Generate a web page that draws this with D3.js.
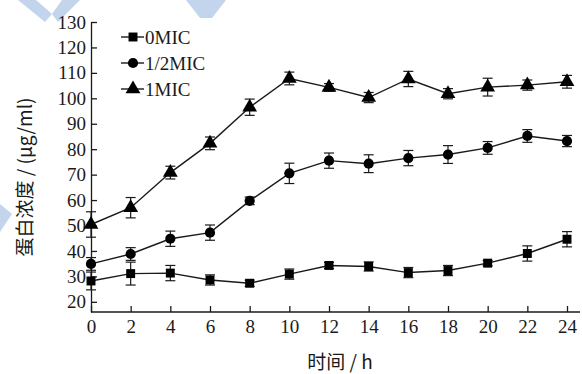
<!DOCTYPE html>
<html>
<head>
<meta charset="utf-8">
<script src="https://cdn.jsdelivr.net/npm/d3@7/dist/d3.min.js"></script>
<style>
  html, body { margin: 0; padding: 0; background: #fff; }
  svg { display: block; }
</style>
</head>
<body>
<svg id="chart" width="582" height="374"></svg>
<script>
// ---- data ----
const hours = [0, 2, 4, 6, 8, 10, 12, 14, 16, 18, 20, 22, 24];
const seriesNames = ["0MIC", "1/2MIC", "1MIC"];
const mic0 = [28.2, 31.1, 31.3, 28.6, 27.3, 30.9, 34.3, 33.9, 31.5, 32.3, 35.2, 39.0, 44.6];
const mic0Err = [3.5, 4.5, 3.0, 2.0, 1.2, 2.0, 1.2, 1.8, 2.0, 2.0, 1.0, 3.0, 3.0];
const mic05 = [34.9, 38.8, 44.8, 47.2, 59.7, 70.5, 75.5, 74.3, 76.5, 77.9, 80.5, 85.2, 83.2];
const mic05Err = [2.5, 2.5, 3.0, 3.0, 1.5, 4.0, 3.0, 3.5, 3.0, 3.5, 2.5, 2.5, 2.2];
const mic1 = [50.4, 57.0, 70.8, 82.3, 96.5, 107.8, 104.3, 100.3, 107.6, 101.8, 104.4, 105.2, 106.5];
const mic1Err = [5.0, 4.0, 2.5, 2.5, 3.2, 2.5, 1.5, 2.0, 3.0, 2.0, 3.5, 2.0, 2.5];
const yTicks = [20, 30, 40, 50, 60, 70, 80, 90, 100, 110, 120, 130];
const xTicks = [0, 2, 4, 6, 8, 10, 12, 14, 16, 18, 20, 22, 24];
const xTitle = "时间 / h";
const yTitle = "蛋白浓度 / (μg/ml)";

const series = [
  { name: seriesNames[0], values: mic0, errs: mic0Err, symbol: d3.symbolSquare, size: 80 },
  { name: seriesNames[1], values: mic05, errs: mic05Err, symbol: d3.symbolCircle, size: 82 },
  { name: seriesNames[2], values: mic1, errs: mic1Err, symbol: d3.symbolTriangle, size: 95 }
];

const svg = d3.select("#chart");
const serif = "'Liberation Serif', 'Times New Roman', serif";
const cjk = "'Noto Sans CJK SC', 'Liberation Serif', serif";
const ink = "#1a1a1a";

// faint watermark shapes
const wm = svg.append("g").attr("fill", "#b9cdea").attr("opacity", 0.85);
wm.append("polygon").attr("points", "18,0 36,0 52,14 45,22");
wm.append("polygon").attr("points", "62,0 80,0 58,22 52,14");
wm.append("polygon").attr("points", "186,0 226,0 212,18 200,18");
wm.append("polygon").attr("points", "0,204 12,214 0,232");

const x = d3.scaleLinear().domain([0, 24]).range([91, 567]);
const y = d3.scaleLinear().domain([16, 130]).range([312, 22]);

// y axis
const yAxis = d3.axisLeft(y).tickValues(yTicks).tickSizeInner(-6).tickSizeOuter(0).tickPadding(5);
const gy = svg.append("g").attr("transform", `translate(${x(0)},0)`).call(yAxis);
gy.selectAll("text").attr("font-family", serif).attr("font-size", 19).attr("fill", ink);
gy.selectAll("line, path").attr("stroke", ink).attr("stroke-width", 1.3);

// x axis
const xAxis = d3.axisBottom(x).tickValues(xTicks).tickSizeInner(-6).tickSizeOuter(0).tickPadding(8);
const gx = svg.append("g").attr("transform", `translate(0,${y(16)})`).call(xAxis);
gx.select(".domain").remove();
gx.append("line").attr("x1", x(0)).attr("x2", 580).attr("y1", 0).attr("y2", 0)
  .attr("stroke", ink).attr("stroke-width", 1.3);
gx.selectAll("text").attr("font-family", serif).attr("font-size", 19).attr("fill", ink);
gx.selectAll(".tick line").attr("stroke", ink).attr("stroke-width", 1.3);

// titles
svg.append("text").attr("x", 340).attr("y", 369).attr("text-anchor", "middle")
  .attr("font-family", cjk).attr("font-size", 19).attr("fill", ink).text(xTitle);
svg.append("text").attr("transform", "translate(32,177) rotate(-90)").attr("text-anchor", "middle")
  .attr("font-family", cjk).attr("font-size", 19).attr("fill", ink).text(yTitle);

// series
const line = d3.line().x((d, i) => x(hours[i])).y(d => y(d));
series.forEach(s => {
  const g = svg.append("g");
  g.append("path").attr("d", line(s.values)).attr("fill", "none")
    .attr("stroke", ink).attr("stroke-width", 1.4);
  s.values.forEach((v, i) => {
    const cx = x(hours[i]);
    const lo = y(v - s.errs[i]), hi = y(v + s.errs[i]);
    g.append("line").attr("x1", cx).attr("x2", cx).attr("y1", lo).attr("y2", hi)
      .attr("stroke", ink).attr("stroke-width", 1.2);
    [lo, hi].forEach(yy => g.append("line").attr("x1", cx - 5).attr("x2", cx + 5)
      .attr("y1", yy).attr("y2", yy).attr("stroke", ink).attr("stroke-width", 1.2));
    g.append("path").attr("d", d3.symbol().type(s.symbol).size(s.size)())
      .attr("transform", `translate(${cx},${y(v)})`).attr("fill", "#000");
  });
});

// legend
const legendY = [37, 63, 89];
series.forEach((s, i) => {
  const g = svg.append("g").attr("transform", `translate(0,${legendY[i]})`);
  g.append("line").attr("x1", 121).attr("x2", 144).attr("y1", 0).attr("y2", 0)
    .attr("stroke", ink).attr("stroke-width", 1.4);
  g.append("path").attr("d", d3.symbol().type(s.symbol).size(s.size)())
    .attr("transform", "translate(133,0)").attr("fill", "#000");
  g.append("text").attr("x", 145).attr("y", 0).attr("dy", "0.35em")
    .attr("font-family", serif).attr("font-size", 19).attr("fill", ink).text(s.name);
});
</script>
</body>
</html>
